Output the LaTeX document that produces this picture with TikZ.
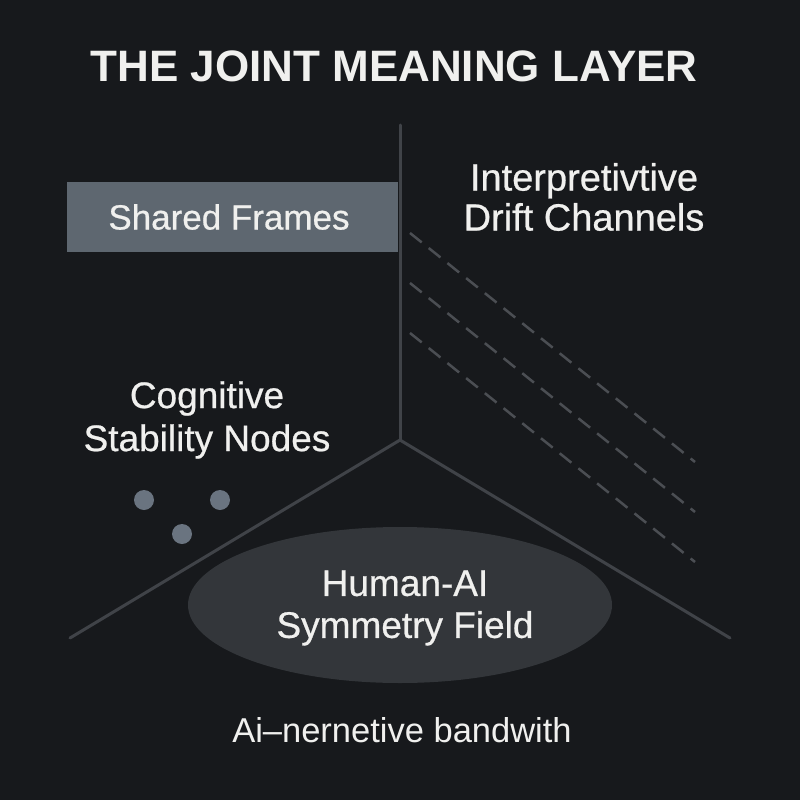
\documentclass[tikz,border=0pt]{standalone}
\usepackage{fontspec}
\setmainfont{Liberation Sans}
\newfontfamily\medfont[FakeBold=0.6]{Liberation Sans}
\usetikzlibrary{shapes.geometric}
\definecolor{bg}{HTML}{17191C}
\definecolor{linegray}{HTML}{404348}
\definecolor{rectgray}{HTML}{5E6770}
\definecolor{ellgray}{HTML}{33363A}
\definecolor{dotgray}{HTML}{6A7480}
\definecolor{dashgray}{HTML}{4B4E53}
\definecolor{txt}{HTML}{F0F0EE}
\tikzset{
  lbl/.style={text=txt, align=center, inner sep=0pt},
  axis/.style={draw=linegray, line width=3pt, line cap=round},
  drift/.style={draw=dashgray, line width=2.5pt, dash pattern=on 15pt off 9pt},
  dotnode/.style={circle, fill=dotgray, minimum size=20pt, inner sep=0pt}
}
\begin{document}
\begin{tikzpicture}[x=1pt,y=-1pt]
\fill[bg] (0,0) rectangle (800,800);
\useasboundingbox (0,0) rectangle (800,800);
% axes
\coordinate (top) at (400,125);
\coordinate (hub) at (400,440);
\coordinate (lft) at (70,638);
\coordinate (rgt) at (730,638);
\draw[axis] (top) -- (hub);
\draw[axis] (hub) -- (lft);
\draw[axis] (hub) -- (rgt);
% drift channels
\foreach \i/\dy in {1/0,2/50,3/100}{
  \coordinate (ds\i) at (410,233+\dy);
  \coordinate (de\i) at (695,462+\dy);
  \draw[drift] (ds\i) -- (de\i);
}
% shared frames
\node[fill=rectgray, minimum width=331pt, minimum height=70pt, inner sep=0pt] (sf) at (232.5,217) {};
\node[lbl, font=\medfont\fontsize{35}{40}\selectfont] (sft) at (229,217) {Shared Frames};
% title
\node[lbl, font=\bfseries\fontsize{44}{50}\selectfont] (title) at (394,66) {THE JOINT MEANING LAYER};
% drift label
\node[lbl, font=\medfont\fontsize{38}{40}\selectfont] (idc) at (584,197) {Interpretivtive\\Drift Channels};
% cognitive
\node[lbl, font=\medfont\fontsize{37}{43}\selectfont] (csn) at (207,420) {Cognitive\\Stability Nodes};
\node[dotnode] (d1) at (144,500) {};
\node[dotnode] (d2) at (220,500) {};
\node[dotnode] (d3) at (182,534) {};
% ellipse
\node[ellipse, fill=ellgray, minimum width=424pt, minimum height=156pt, inner sep=0pt] (field) at (400,605) {};
\node[lbl, font=\medfont\fontsize{37}{42}\selectfont] (fieldt) at (405,608) {Human-AI\\Symmetry Field};
% bottom
\node[lbl, font=\fontsize{34.5}{40}\selectfont] (band) at (402,730) {Ai–nernetive bandwith};
\end{tikzpicture}
\end{document}
